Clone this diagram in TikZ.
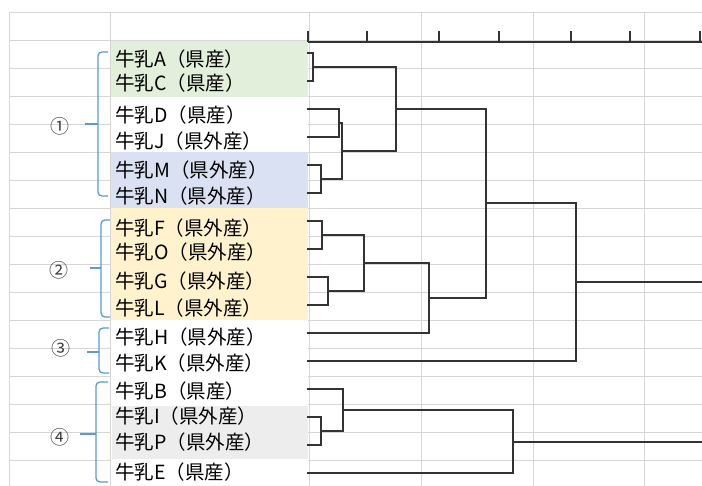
\documentclass[tikz,border=0pt]{standalone}
\usepackage{fontspec}
\setmainfont{Noto Sans CJK JP}
\definecolor{gridc}{HTML}{D6D6D6}
\definecolor{treec}{HTML}{333333}
\definecolor{brkc}{HTML}{5B9BD5}
\definecolor{bgG}{HTML}{E2EFDA}
\definecolor{bgB}{HTML}{D9E1F2}
\definecolor{bgO}{HTML}{FFF2CC}
\definecolor{bgS}{HTML}{EDEDED}
\definecolor{numc}{HTML}{404040}
\begin{document}
\begin{tikzpicture}[x=1pt,y=-1pt,
  gridline/.style={draw=gridc,line width=0.9pt},
  treeline/.style={draw=treec,line width=1.6pt,line cap=rect},
  brk/.style={draw=brkc,line width=1.3pt,rounded corners=4pt},
  lbl/.style={anchor=west,inner sep=0pt,font=\fontsize{19.5}{19.5}\selectfont,text=black},
  num/.style={inner sep=0pt,font=\fontsize{19}{19}\selectfont,text=numc}]
\useasboundingbox (0,0) rectangle (702,486);
\fill[white] (0,0) rectangle (702,486);
% grid
\foreach \x in {9,110,309,421,533,644} \draw[gridline] (\x,12) -- (\x,486);
\draw[gridline] (9,12) -- (702,12);
\foreach \k in {0,...,15} \draw[gridline] (9,{40.5+28*\k}) -- (702,{40.5+28*\k});
% label column
\fill[white] (110.6,41) rectangle (308.4,486);
\fill[bgG] (110.6,41) rectangle (308.4,97);
\fill[bgB] (110.6,152) rectangle (308.4,208);
\fill[bgO] (110.6,208) rectangle (308.4,320);
\fill[bgS] (112,406) rectangle (308,459);
% labels
\node[lbl] (lA) at (115,59) {牛乳A（県産）};
\node[lbl] (lC) at (115,83) {牛乳C（県産）};
\node[lbl] (lD) at (115,115) {牛乳D（県産）};
\node[lbl] (lJ) at (115,141) {牛乳J（県外産）};
\node[lbl] (lM) at (115,170) {牛乳M（県外産）};
\node[lbl] (lN) at (115,196) {牛乳N（県外産）};
\node[lbl] (lF) at (115,228) {牛乳F（県外産）};
\node[lbl] (lO) at (115,252) {牛乳O（県外産）};
\node[lbl] (lG) at (115,281) {牛乳G（県外産）};
\node[lbl] (lL) at (115,308) {牛乳L（県外産）};
\node[lbl] (lH) at (115,337) {牛乳H（県外産）};
\node[lbl] (lK) at (115,363) {牛乳K（県外産）};
\node[lbl] (lB) at (115,391) {牛乳B（県産）};
\node[lbl] (lI) at (115,416) {牛乳I（県外産）};
\node[lbl] (lP) at (115,442) {牛乳P（県外産）};
\node[lbl] (lE) at (115,472) {牛乳E（県産）};
% group numbers and brackets
\node[num] (n1) at (60,126) {①};
\node[num] (n2) at (59,270) {②};
\node[num] (n3) at (61,348) {③};
\node[num] (n4) at (60,437) {④};
\draw[brk] (108,52) -- (98,52) -- (98,196) -- (108,196);
\draw[brk,rounded corners=0pt] (85,124) -- (98,124);
\draw[brk] (110,220) -- (101,220) -- (101,317) -- (110,317);
\draw[brk,rounded corners=0pt] (90,268) -- (101,268);
\draw[brk] (109,328) -- (99,328) -- (99,373) -- (109,373);
\draw[brk,rounded corners=0pt] (87,352) -- (99,352);
\draw[brk] (108,382) -- (96,382) -- (96,482) -- (108,482);
\draw[brk,rounded corners=0pt] (80,434) -- (96,434);
% axis
\coordinate (ax0) at (308,42);
\coordinate (ax1) at (702,42);
\draw[treeline,line cap=butt] (ax0) -- (ax1);
\foreach \t in {308,367,439,499,571,630,700} \draw[treeline,line cap=butt] (\t,31) -- (\t,42);
% leaves
\foreach \n/\i in {A/0,C/1,D/2,J/3,M/4,N/5,F/6,O/7,G/8,L/9,H/10,K/11,B/12,I/13,P/14,E/15}
  \coordinate (\n) at (308,{53+28*\i});
% merge points
\coordinate (AC) at (313,67);
\coordinate (DJ) at (339,123);
\coordinate (MN) at (321,179);
\coordinate (DJMN) at (342,151);
\coordinate (C1) at (396,109);
\coordinate (FO) at (322,235);
\coordinate (GL) at (328,291);
\coordinate (FOGL) at (364,263);
\coordinate (C2) at (429,298);
\coordinate (C12) at (486,203);
\coordinate (C123) at (576,282);
\coordinate (IP) at (321,431);
\coordinate (BIP) at (343,410);
\coordinate (C4) at (513,442);
\coordinate (R1) at (702,282);
\coordinate (R2) at (702,442);
\draw[treeline] (A) -| (AC) |- (C);
\draw[treeline] (D) -| (DJ) |- (J);
\draw[treeline] (M) -| (MN) |- (N);
\draw[treeline] (DJ) -| (DJMN) |- (MN);
\draw[treeline] (AC) -| (C1) |- (DJMN);
\draw[treeline] (F) -| (FO) |- (O);
\draw[treeline] (G) -| (GL) |- (L);
\draw[treeline] (FO) -| (FOGL) |- (GL);
\draw[treeline] (FOGL) -| (C2) |- (H);
\draw[treeline] (C1) -| (C12) |- (C2);
\draw[treeline] (C12) -| (C123) |- (K);
\draw[treeline,line cap=butt] (C123) -- (R1);
\draw[treeline] (I) -| (IP) |- (P);
\draw[treeline] (B) -| (BIP) |- (IP);
\draw[treeline] (BIP) -| (C4) |- (E);
\draw[treeline,line cap=butt] (C4) -- (R2);
\end{tikzpicture}
\end{document}
